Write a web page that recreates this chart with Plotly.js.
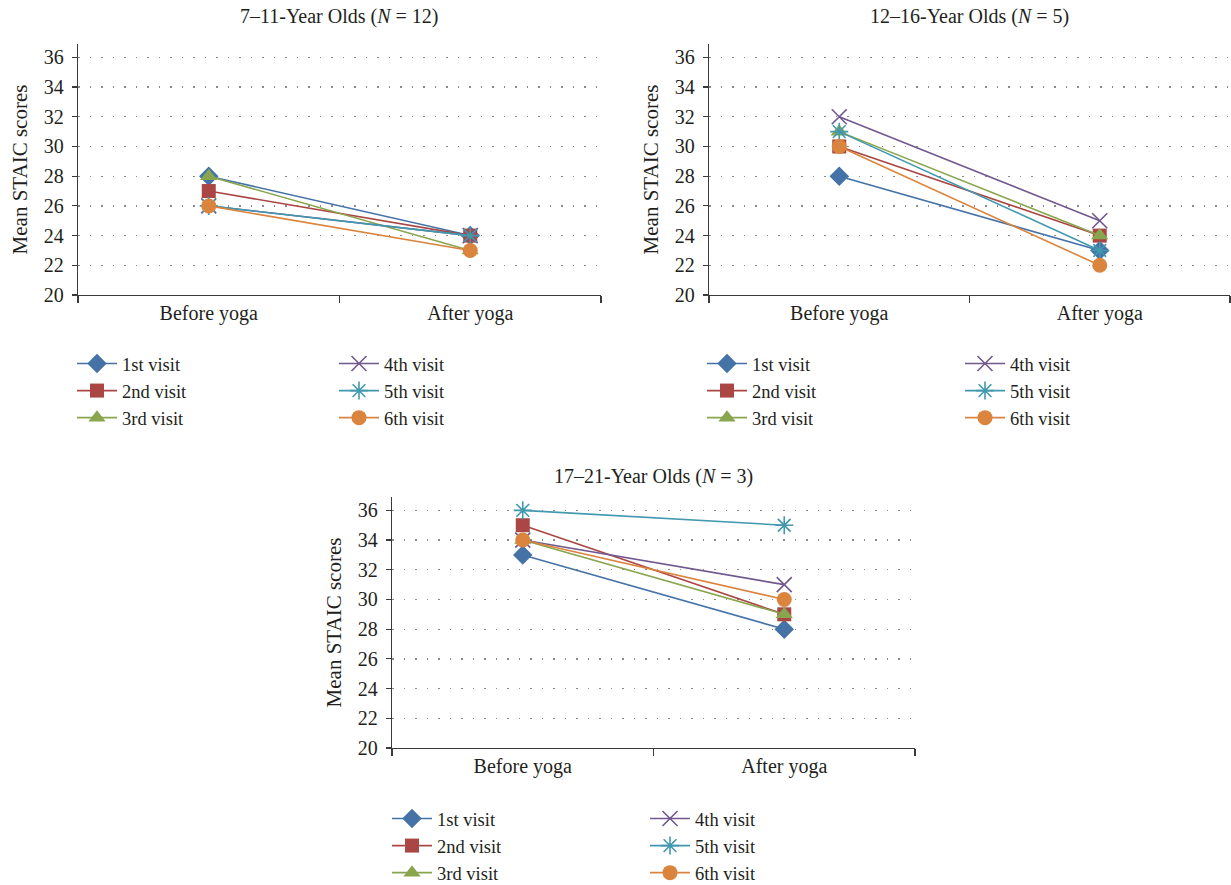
<!DOCTYPE html>
<html>
<head>
<meta charset="utf-8">
<script src="https://cdn.plot.ly/plotly-3.0.1.min.js"></script>
<style>
  html, body { margin: 0; padding: 0; background: #fff; }
  #chart { width: 1231px; height: 885px; }
</style>
</head>
<body>
<div id="chart"></div>
<script>
// ---- Data ----
const categories = ['Before yoga', 'After yoga'];
const visits = ['1st visit', '2nd visit', '3rd visit', '4th visit', '5th visit', '6th visit'];
const panelTitles = [
  '7–11-Year Olds (<i>N</i> = 12)',
  '12–16-Year Olds (<i>N</i> = 5)',
  '17–21-Year Olds (<i>N</i> = 3)'
];
// values per visit (1st..6th)
const age7to11Before  = [28, 27, 28, 26, 26, 26];
const age7to11After   = [24, 24, 23, 24, 24, 23];
const age12to16Before = [28, 30, 31, 32, 31, 30];
const age12to16After  = [23, 24, 24, 25, 23, 22];
const age17to21Before = [33, 35, 34, 34, 36, 34];
const age17to21After  = [28, 29, 29, 31, 35, 30];
const yTickVals = [20, 22, 24, 26, 28, 30, 32, 34, 36];
const yAxisTitle = 'Mean STAIC scores';

// ---- Styling ----
const colors = ['#4572A7', '#AA4643', '#89A54E', '#71588F', '#4198AF', '#DB843D'];
const symbols = ['diamond', 'square', 'triangle-up', 'x-thin-open', 'asterisk-open', 'circle'];
const sizes = [15, 14, 15, 15, 15, 15];
const FONT = 'Liberation Serif, Times New Roman, serif';
const FS = 20;
const LFS = 18.5;
const W = 1231, H = 885;
const px = v => v / W;
const py = v => (H - v) / H;

const panels = [
  { before: age7to11Before,  after: age7to11After,  left: 78,  right: 601,  top: 44,  bottom: 295, titleY: 17,  legY: 345, legX: [72, 334] },
  { before: age12to16Before, after: age12to16After, left: 709, right: 1230, top: 44,  bottom: 295, titleY: 17,  legY: 345, legX: [702, 960] },
  { before: age17to21Before, after: age17to21After, left: 392, right: 915,  top: 497, bottom: 748, titleY: 477, legY: 800, legX: [387, 645] }
];

const data = [];
const layout = {
  width: W, height: H,
  margin: { l: 0, r: 0, t: 0, b: 0, autoexpand: false },
  paper_bgcolor: '#fff', plot_bgcolor: '#fff',
  font: { family: FONT, size: FS, color: '#231f20' },
  showlegend: true,
  annotations: []
};

panels.forEach((p, i) => {
  const n = i === 0 ? '' : String(i + 1);
  const xa = 'x' + n, ya = 'y' + n;
  const legA = 'legend' + (i === 0 ? '' : String(i * 2 + 1));
  const legB = 'legend' + String(i * 2 + 2);
  visits.forEach((v, k) => {
    data.push({
      type: 'scatter', mode: 'lines+markers',
      x: categories, y: [p.before[k], p.after[k]],
      name: v, xaxis: xa, yaxis: ya,
      legend: k < 3 ? legA : legB,
      line: { color: colors[k], width: 1.6 },
      marker: {
        symbol: symbols[k], size: sizes[k], color: colors[k],
        line: { color: colors[k], width: (k === 3 || k === 4) ? 1.6 : 0 }
      },
      cliponaxis: false,
      hoverinfo: 'skip'
    });
  });
  layout['xaxis' + n] = {
    domain: [px(p.left), px(p.right)], anchor: ya,
    type: 'category', range: [-0.5, 1.5],
    tickson: 'boundaries', ticks: 'outside', ticklen: 7, tickwidth: 1.2, tickcolor: '#3a3a3a',
    showline: true, linecolor: '#3a3a3a', linewidth: 1.2,
    showgrid: false, zeroline: false, fixedrange: true,
    tickfont: { family: FONT, size: FS, color: '#231f20' }
  };
  layout['yaxis' + n] = {
    domain: [py(p.bottom), py(p.top)], anchor: xa,
    range: [20, 36.9], tickmode: 'array', tickvals: yTickVals,
    ticks: 'outside', ticklen: 5, tickwidth: 1.2, tickcolor: '#3a3a3a',
    showline: true, linecolor: '#3a3a3a', linewidth: 1.2,
    showgrid: true, gridcolor: '#8a8a8a', gridwidth: 1.3, griddash: '1.5px,10px',
    zeroline: false, fixedrange: true, ticklabelstandoff: 4,
    tickfont: { family: FONT, size: FS, color: '#231f20' },
    title: { text: yAxisTitle, font: { family: FONT, size: 21, color: '#231f20' }, standoff: 10 }
  };
  [legA, legB].forEach((lg, j) => {
    layout[lg] = {
      x: px(p.legX[j]), y: py(p.legY), xanchor: 'left', yanchor: 'top',
      orientation: 'v', itemwidth: 40, tracegroupgap: 0, bgcolor: 'rgba(0,0,0,0)',
      font: { family: FONT, size: LFS, color: '#231f20' }
    };
  });
  layout.annotations.push({
    xref: 'paper', yref: 'paper',
    x: px((p.left + p.right) / 2), y: py(p.titleY),
    xanchor: 'center', yanchor: 'middle', showarrow: false,
    text: panelTitles[i],
    font: { family: FONT, size: 20, color: '#231f20' }
  });
});

Plotly.newPlot('chart', data, layout, { staticPlot: true, displayModeBar: false });
</script>
</body>
</html>
